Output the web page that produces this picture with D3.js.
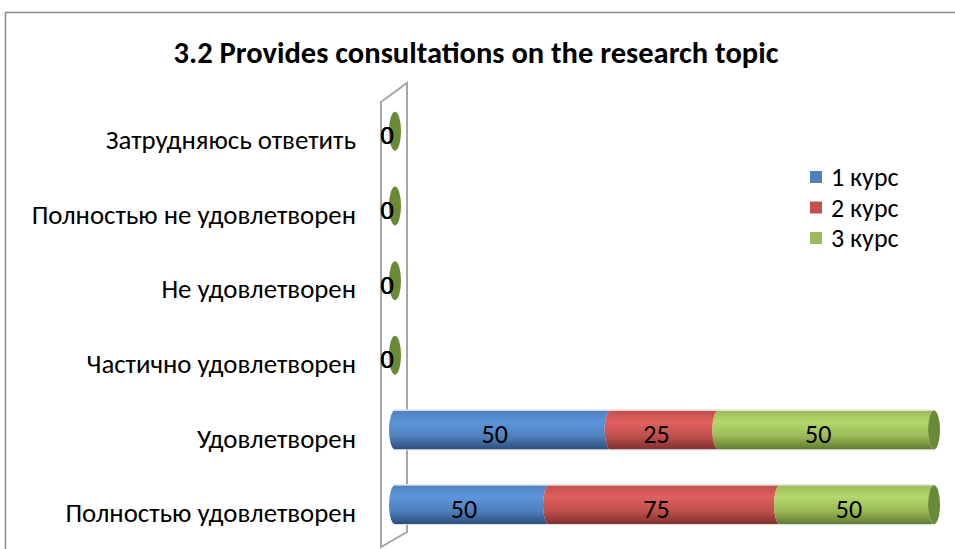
<!DOCTYPE html>
<html>
<head>
<meta charset="utf-8">
<script src="https://cdn.jsdelivr.net/npm/d3@7"></script>
<style>
  body { margin: 0; background: #fff; }
  text { font-family: Carlito, Calibri, "Open Sans", sans-serif; }
</style>
</head>
<body>
<div id="chart"></div>
<script>
// categories, top to bottom
var categories = [
  'Затрудняюсь ответить',
  'Полностью не удовлетворен',
  'Не удовлетворен',
  'Частично удовлетворен',
  'Удовлетворен',
  'Полностью удовлетворен'
]
var seriesNames = ['1 курс', '2 курс', '3 курс']
var course1 = [0, 0, 0, 0, 50, 50]
var course2 = [0, 0, 0, 0, 25, 75]
var course3 = [0, 0, 0, 0, 50, 50]

var colors = [
  { base: '#4f81bd', light: '#5b95da', dark: '#2c4f7d', cap: '#3e6699' },
  { base: '#c0504d', light: '#e0605d', dark: '#7f302e', cap: '#9c3c39' },
  { base: '#9bbb59', light: '#b2d76a', dark: '#5f7c2f', cap: '#6b8a38' }
]

var width = 955
var height = 549

var svg = d3.select('#chart').append('svg')
  .attr('width', width)
  .attr('height', height)

var defs = svg.append('defs')
colors.forEach(function (c, i) {
  var g = defs.append('linearGradient')
    .attr('id', 'grad' + i)
    .attr('x1', 0).attr('y1', 0).attr('x2', 0).attr('y2', 1)
  g.append('stop').attr('offset', '0%').attr('stop-color', c.base)
  g.append('stop').attr('offset', '30%').attr('stop-color', c.light)
  g.append('stop').attr('offset', '65%').attr('stop-color', c.base)
  g.append('stop').attr('offset', '100%').attr('stop-color', c.dark)
})

// outer chart border (cropped on the right and bottom)
svg.append('path')
  .attr('d', 'M5.5,' + height + ' L5.5,12.5 L' + width + ',12.5')
  .attr('fill', 'none')
  .attr('stroke', '#8c8c8c')
  .attr('stroke-width', 1.5)

svg.append('text')
  .attr('x', 476)
  .attr('y', 63)
  .attr('text-anchor', 'middle')
  .style('font-size', '30.5px')
  .style('font-weight', 'bold')
  .text('3.2 Provides consultations on the research topic')

// scales: each bar is shown as a share of its own total
var x = d3.scaleLinear().domain([0, 1]).range([395, 934])
var y = d3.scaleBand().domain(categories).range([104, 552])

var depth = -10 // bars sit a little above their label (3D)
var rx = 6
var ry = 19.5

// back wall
var wx0 = x(0) - 14
var wx1 = x(0) + 12
svg.append('path')
  .attr('d', 'M' + wx0 + ',102 L' + wx1 + ',83 L' + wx1 + ',532 L' + wx0 + ',547 Z')
  .attr('fill', 'none')
  .attr('stroke', '#a6a6a6')
  .attr('stroke-width', 2)

// category labels
svg.append('g').selectAll('text')
  .data(categories)
  .join('text')
  .attr('x', 356)
  .attr('y', function (d) { return y(d) + y.bandwidth() / 2 })
  .attr('dy', '0.28em')
  .attr('text-anchor', 'end')
  .style('font-size', '26.8px')
  .text(function (d) { return d })

// stack the values
var series = [course1, course2, course3]
var rows = categories.map(function (cat, i) {
  var total = series[0][i] + series[1][i] + series[2][i]
  var acc = 0
  var segs = series.map(function (s, k) {
    var v = s[i]
    var a = total ? acc / total : 0
    acc += v
    var b = total ? acc / total : 0
    return { k: k, value: v, x0: x(a), x1: x(b) }
  })
  return { cat: cat, cy: y(cat) + y.bandwidth() / 2 + depth, segs: segs }
})

var bars = svg.append('g').selectAll('g')
  .data(rows)
  .join('g')

bars.each(function (row) {
  var g = d3.select(this)
  var top = row.cy - ry
  var bot = row.cy + ry
  row.segs.forEach(function (s) {
    if (s.x1 - s.x0 <= 0) return
    g.append('path')
      .attr('d', 'M' + s.x0 + ',' + top +
        ' L' + s.x1 + ',' + top +
        ' A' + rx + ',' + ry + ' 0 0 0 ' + s.x1 + ',' + bot +
        ' L' + s.x0 + ',' + bot +
        ' A' + rx + ',' + ry + ' 0 0 1 ' + s.x0 + ',' + top + ' Z')
      .attr('fill', 'url(#grad' + s.k + ')')
  })
  // thin highlight on the top edge
  var last = row.segs[row.segs.length - 1]
  if (last.x1 > x(0)) {
    g.append('line')
      .attr('x1', x(0)).attr('x2', last.x1)
      .attr('y1', top - 0.5).attr('y2', top - 0.5)
      .attr('stroke', '#e3e3e3').attr('stroke-width', 1.5)
    g.append('line')
      .attr('x1', x(0)).attr('x2', last.x1)
      .attr('y1', bot + 0.5).attr('y2', bot + 0.5)
      .attr('stroke', '#e6e6e6').attr('stroke-width', 1)
  }
  // end cap of the last series
  g.append('ellipse')
    .attr('cx', last.x1)
    .attr('cy', row.cy)
    .attr('rx', rx)
    .attr('ry', ry)
    .attr('fill', colors[last.k].cap)
  // value labels
  row.segs.forEach(function (s) {
    g.append('text')
      .attr('x', (s.x0 + s.x1) / 2 - 8)
      .attr('y', row.cy + 4)
      .attr('dy', '0.35em')
      .attr('text-anchor', 'middle')
      .style('font-size', '26px')
      .text(s.value)
  })
})

// legend
var legend = svg.append('g').selectAll('g')
  .data(seriesNames)
  .join('g')
  .attr('transform', function (d, i) { return 'translate(810,' + (177 + i * 30.5) + ')' })

legend.append('rect')
  .attr('x', 0).attr('y', -6)
  .attr('width', 12).attr('height', 12)
  .attr('fill', function (d, i) { return colors[i].base })

legend.append('text')
  .attr('x', 21)
  .attr('dy', '0.35em')
  .style('font-size', '26px')
  .text(function (d) { return d })
</script>
</body>
</html>
